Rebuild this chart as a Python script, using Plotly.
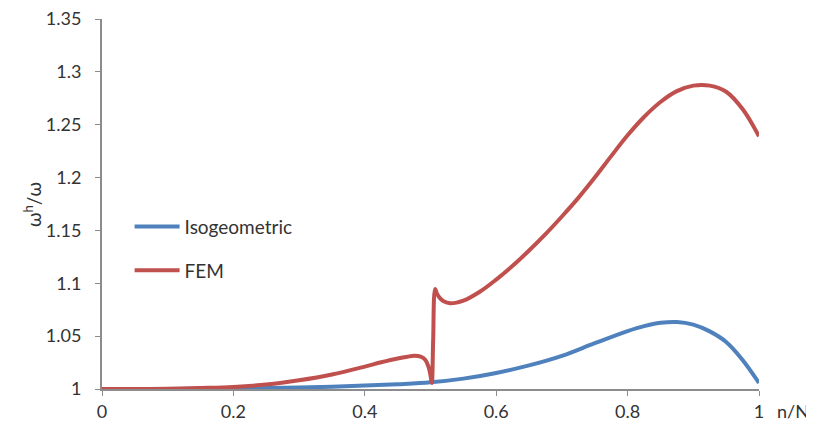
import plotly.graph_objects as go

# FEM curve
fem_x = [0, 0.1, 0.15, 0.2, 0.25, 0.3, 0.35, 0.4, 0.425, 0.45, 0.465, 0.475, 0.485, 0.492,
         0.497, 0.500, 0.502, 0.504, 0.507, 0.51, 0.515, 0.52, 0.53, 0.55, 0.575, 0.6, 0.625,
         0.65, 0.675, 0.7, 0.725, 0.75, 0.775, 0.8, 0.825, 0.85, 0.875, 0.9, 0.925, 0.95,
         0.975, 1.0]
fem_y = [1.0, 1.0003, 1.001, 1.002, 1.0042, 1.0082, 1.0137, 1.0212, 1.0253, 1.0289, 1.0306,
         1.0314, 1.0307, 1.0277, 1.021, 1.013, 1.0057, 1.045, 1.0946, 1.0900, 1.0855, 1.0830,
         1.0811, 1.0836, 1.0920, 1.1035, 1.1165, 1.1310, 1.1465, 1.1632, 1.1808, 1.2000,
         1.2203, 1.2400, 1.2573, 1.2715, 1.2818, 1.2870, 1.2870, 1.2812, 1.2648, 1.2390]

# Isogeometric curve
iga_x = [0, 0.1, 0.2, 0.3, 0.35, 0.4, 0.45, 0.5, 0.55, 0.6, 0.65, 0.7, 0.75, 0.8, 0.825,
         0.85, 0.875, 0.9, 0.925, 0.95, 0.975, 1.0]
iga_y = [1.0, 1.0001, 1.0005, 1.0014, 1.0022, 1.0032, 1.0045, 1.0063, 1.0098, 1.0152, 1.0223,
         1.0313, 1.0433, 1.0548, 1.0595, 1.0626, 1.0634, 1.0609, 1.0545, 1.0445, 1.0275,
         1.0057]

x_ticks = [0, 0.2, 0.4, 0.6, 0.8, 1]
x_labels = ["0", "0.2", "0.4", "0.6", "0.8", "1"]
y_ticks = [1, 1.05, 1.1, 1.15, 1.2, 1.25, 1.3, 1.35]
y_labels = ["1", "1.05", "1.1", "1.15", "1.2", "1.25", "1.3", "1.35"]

FONT = "Lato, 'Open Sans', sans-serif"
TXT = "#333333"

fig = go.Figure()
fig.add_trace(go.Scatter(x=iga_x, y=iga_y, mode="lines", name="Isogeometric",
                         legendgroup="a",
                         line=dict(color="#4F81BD", width=4, shape="spline", smoothing=1)))
fig.add_trace(go.Scatter(x=fem_x, y=fem_y, mode="lines", name="FEM",
                         legendgroup="b",
                         line=dict(color="#C0504D", width=4, shape="spline", smoothing=1)))

axis_common = dict(showgrid=False, zeroline=False, showline=True, linecolor="#8c8c8c",
                   linewidth=2, ticks="outside", tickcolor="#8c8c8c", ticklen=5, tickwidth=1,
                   ticklabeloverflow="allow", automargin=False,
                   tickfont=dict(family=FONT, size=18, color=TXT))

fig.update_xaxes(range=[0, 1], tickvals=x_ticks, ticktext=x_labels, **axis_common)
fig.update_yaxes(range=[1, 1.35], tickvals=y_ticks, ticktext=y_labels,
                 ticklabelstandoff=10, **axis_common)

fig.add_annotation(text="n/N", xref="paper", yref="paper", x=1, xshift=16, y=0, yshift=-22,
                   xanchor="left", yanchor="middle", showarrow=False,
                   font=dict(family=FONT, size=18, color=TXT))
fig.add_annotation(text="ω<sup>h</sup>/ω", xref="paper", yref="paper", x=0, xshift=-70,
                   y=0.497, textangle=-90, xanchor="center", yanchor="middle",
                   showarrow=False, font=dict(family=FONT, size=19, color=TXT))

# page body has an 8px margin, so the figure is shifted; size it to fit the window
fig.update_layout(
    width=806, height=422,
    margin=dict(l=94, r=55, t=11, b=41),
    paper_bgcolor="white", plot_bgcolor="white",
    showlegend=True,
    legend=dict(x=0.042, y=0.49, xanchor="left", yanchor="top", bgcolor="rgba(0,0,0,0)",
                itemwidth=45, traceorder="grouped", tracegroupgap=16,
                font=dict(family=FONT, size=19, color=TXT)),
)

fig.write_html("out.html")
